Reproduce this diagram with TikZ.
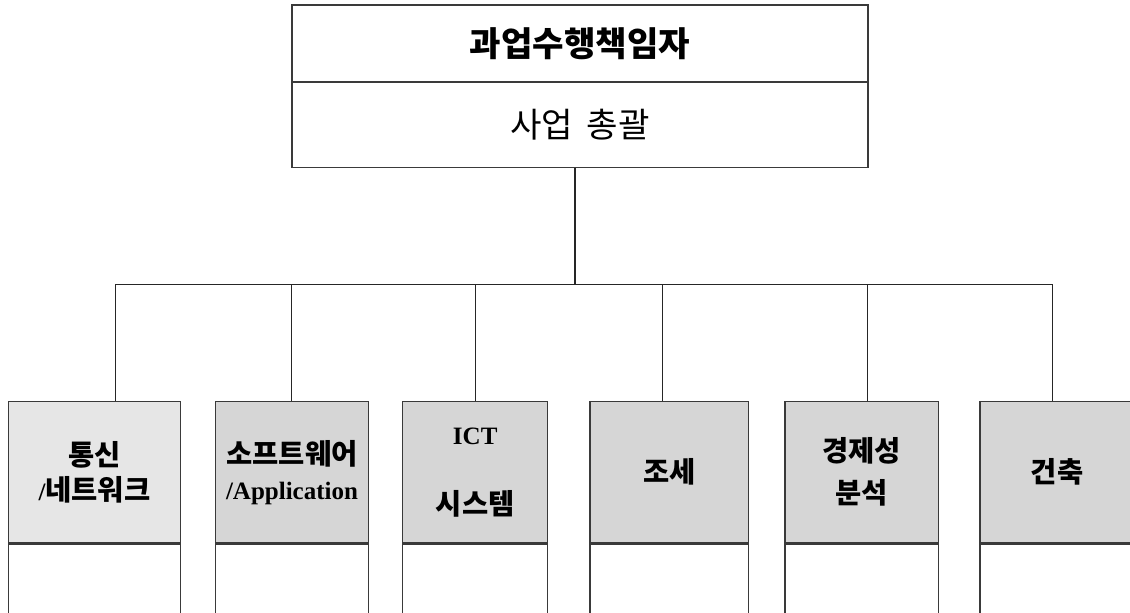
\documentclass[tikz,border=0pt]{standalone}
\usepackage{fontspec}
\setmainfont{Liberation Serif}
\newfontfamily\kr{Noto Sans CJK KR}[Scale=1.14]
\definecolor{lightfill}{HTML}{E6E6E6}
\definecolor{darkfill}{HTML}{D6D6D6}
\definecolor{edge}{HTML}{3A3A3A}
\begin{document}
\begin{tikzpicture}[x=1pt,y=-1pt,
  box/.style={draw=edge, line width=1.2pt, inner sep=0pt, rectangle, fill=white},
  unitbox/.style={box, fill=darkfill, minimum height=141pt, align=center,
     font=\fontsize{25}{35}\selectfont\bfseries},
  lowbox/.style={box, minimum height=82.3pt},
  conn/.style={draw=black!85, line width=1.2pt}]
\useasboundingbox (0,0) rectangle (1130,613);
% top box
\node[box, minimum width=576pt, minimum height=77pt,
      font=\fontsize{30}{36}\selectfont\bfseries] (title) at (580,43.5) {\kr 과업수행책임자};
\node[box, minimum width=576pt, minimum height=85pt,
      font=\fontsize{30}{36}\selectfont] (sub) at (580,124.75) {\kr 사업\hspace{0.4em}총괄};
% unit boxes
\node[unitbox, fill=lightfill, minimum width=172.4pt] (b1) at (94.5,472.2) {\kr 통신\\[0pt]/\kr 네트워크};
\node[unitbox, minimum width=152.6pt] (b2) at (292,472.2) {\kr 소프트웨어\\[0pt]/Application};
\node[unitbox, minimum width=145pt] (b3) at (475.2,472.2) {ICT\\[35pt]\kr 시스템};
\node[unitbox, minimum width=158.7pt] (b4) at (669.35,472.2) {\kr 조세};
\node[unitbox, minimum width=153.3pt] (b5) at (861.65,472.2) {\kr 경제성\\[7pt]\kr 분석};
\node[unitbox, minimum width=154pt] (b6) at (1057,472.2) {\kr 건축};
\node[lowbox, minimum width=172.4pt, anchor=north] (l1) at (b1.south) {};
\node[lowbox, minimum width=152.6pt, anchor=north] (l2) at (b2.south) {};
\node[lowbox, minimum width=145pt, anchor=north] (l3) at (b3.south) {};
\node[lowbox, minimum width=158.7pt, anchor=north] (l4) at (b4.south) {};
\node[lowbox, minimum width=153.3pt, anchor=north] (l5) at (b5.south) {};
\node[lowbox, minimum width=154pt, anchor=north] (l6) at (b6.south) {};
% connectors
\coordinate (hub) at (575,284.3);
\coordinate (v1) at (115.7,284.3);
\coordinate (v2) at (291.7,284.3);
\coordinate (v3) at (475.7,284.3);
\coordinate (v4) at (662.7,284.3);
\coordinate (v5) at (867.7,284.3);
\coordinate (v6) at (1052.7,284.3);
\draw[conn] (hub |- sub.south) -- (hub);
\draw[conn] (v1) -- (v6);
\foreach \i in {1,...,6}{
  \draw[conn] (v\i) -- (v\i |- b\i.north);
}
\end{tikzpicture}
\end{document}
